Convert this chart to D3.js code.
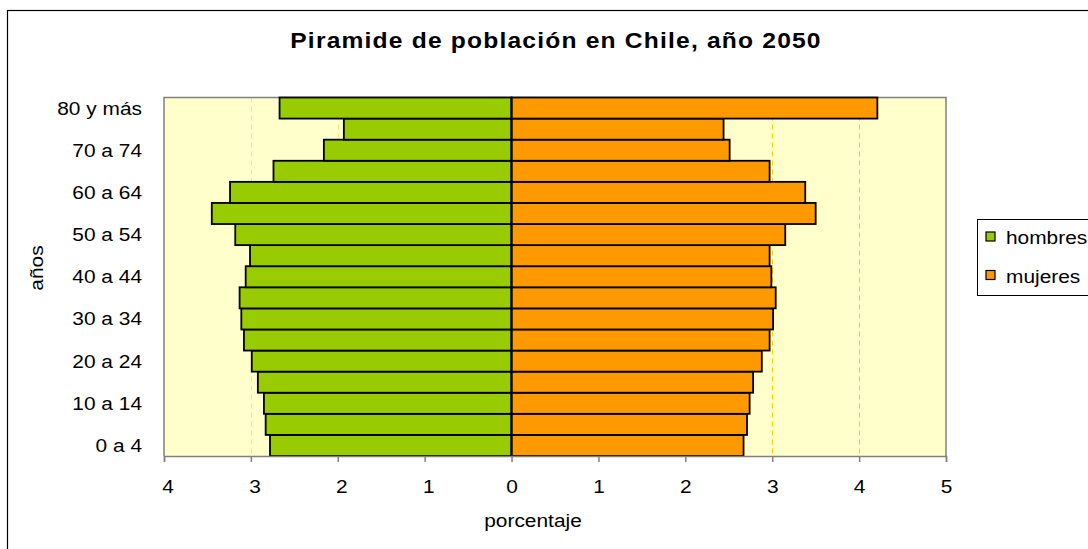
<!DOCTYPE html>
<html>
<head>
<meta charset="utf-8">
<script src="https://cdn.jsdelivr.net/npm/d3@7"></script>
<style>
  html, body { margin: 0; padding: 0; background: #ffffff; }
  svg { display: block; font-family: "Liberation Sans", Arial, sans-serif; }
</style>
</head>
<body>
<svg id="chart" width="1088" height="549"></svg>
<script>
// ---- data ----
const categories = ["0 a 4","5 a 9","10 a 14","15 a 19","20 a 24","25 a 29","30 a 34","35 a 39",
  "40 a 44","45 a 49","50 a 54","55 a 59","60 a 64","65 a 69","70 a 74","75 a 79","80 y más"];
const hombres = [2.78,2.83,2.85,2.92,2.99,3.08,3.11,3.13,3.06,3.01,3.18,3.45,3.24,2.74,2.16,1.93,2.67];
const mujeres = [2.67,2.71,2.74,2.78,2.88,2.97,3.01,3.04,2.99,2.97,3.15,3.50,3.38,2.97,2.51,2.44,4.21];
const xTicks = [-4,-3,-2,-1,0,1,2,3,4,5];
const yTickLabels = ["0 a 4","10 a 14","20 a 24","30 a 34","40 a 44","50 a 54","60 a 64","70 a 74","80 y más"];
const seriesNames = ["hombres","mujeres"];
const title = "Piramide de población en Chile, año 2050";

// ---- layout ----
const svg = d3.select("#chart");
const L = 164, R = 946, T = 97.5, B = 456;
const SX = 1.13; // horizontal text stretch
const FS = 18.5;
const x = d3.scaleLinear().domain([-4, 5]).range([L, R]);
const y = d3.scaleBand().domain(categories).range([B, T]).padding(0);
const colors = { hombres: "#99CC00", mujeres: "#FF9900" };

function txt(g, tx, ty, s, anchor, size, extra) {
  const t = g.append("text")
    .attr("transform", `translate(${tx},${ty})${extra || ""} scale(${SX},1)`)
    .attr("text-anchor", anchor).attr("font-size", size).attr("fill", "#000").text(s);
  return t;
}

// outer border
svg.append("rect").attr("x", 7.5).attr("y", 10.5).attr("width", 1100).attr("height", 560)
  .attr("fill", "#ffffff").attr("stroke", "#000000").attr("stroke-width", 1.2);

// plot background
svg.append("rect").attr("x", L).attr("y", T).attr("width", R - L).attr("height", B - T)
  .attr("fill", "#FFFFCC");

// gridlines
svg.append("g").selectAll("line")
  .data(xTicks.filter(d => d !== 0 && d !== -4 && d !== 5))
  .join("line")
  .attr("x1", d => Math.round(x(d)) + 0.5).attr("x2", d => Math.round(x(d)) + 0.5)
  .attr("y1", T).attr("y2", B)
  .attr("stroke", d => d < 0 ? "#FFE27A" : "#FFCC00").attr("stroke-width", 1).attr("stroke-dasharray", "5,4");

// plot border (left, top, right)
svg.append("path")
  .attr("d", `M${L},${B} V${T} H${R} V${B}`)
  .attr("fill", "none").attr("stroke", "#808080").attr("stroke-width", 1.5);

// bars
const bars = svg.append("g");
bars.selectAll("rect.h").data(categories).join("rect").attr("class", "h")
  .attr("x", (d, i) => x(-hombres[i])).attr("width", (d, i) => x(0) - x(-hombres[i]))
  .attr("y", d => y(d)).attr("height", y.bandwidth())
  .attr("fill", colors.hombres).attr("stroke", "#000").attr("stroke-width", 1.8);
bars.selectAll("rect.m").data(categories).join("rect").attr("class", "m")
  .attr("x", x(0)).attr("width", (d, i) => x(mujeres[i]) - x(0))
  .attr("y", d => y(d)).attr("height", y.bandwidth())
  .attr("fill", colors.mujeres).attr("stroke", "#000").attr("stroke-width", 1.8);

// zero line
svg.append("line").attr("x1", x(0)).attr("x2", x(0)).attr("y1", T).attr("y2", B)
  .attr("stroke", "#000").attr("stroke-width", 1.8);

// x axis
const xAxis = svg.append("g").attr("transform", `translate(0,${B})`)
  .call(d3.axisBottom(x).tickValues(xTicks).tickFormat(d => Math.abs(d)).tickSize(6).tickPadding(17.5));
xAxis.select(".domain").attr("stroke", "#808080").attr("stroke-width", 1.5);
xAxis.selectAll(".tick line").attr("stroke", "#808080").attr("stroke-width", 1.5);
xAxis.selectAll(".tick text")
  .attr("font-size", FS).attr("fill", "#000")
  .attr("font-family", "Liberation Sans, Arial, sans-serif")
  .attr("dx", d => d < 0 ? 3.2 : 0)
  .attr("transform", `scale(${SX},1)`);

// y labels
const yl = svg.append("g");
yTickLabels.forEach(d => txt(yl, 142, y(d) + y.bandwidth() / 2 + 6.5, d, "end", FS));

// title
svg.append("text")
  .attr("transform", `translate(556,48) scale(1.12,1)`)
  .attr("text-anchor", "middle")
  .attr("font-size", 22).attr("font-weight", "bold").attr("letter-spacing", 1.05)
  .text(title);

// axis titles
txt(svg, 533, 527, "porcentaje", "middle", FS);
txt(svg, 43, 268, "años", "middle", FS, " rotate(-90)");

// legend
const lg = svg.append("g");
lg.append("rect").attr("x", 977.5).attr("y", 219.5).attr("width", 140).attr("height", 76)
  .attr("fill", "#fff").attr("stroke", "#000").attr("stroke-width", 1);
seriesNames.forEach((s, i) => {
  const yy = 232 + i * 38.5;
  lg.append("rect").attr("x", 986).attr("y", yy).attr("width", 9).attr("height", 9)
    .attr("fill", colors[s]).attr("stroke", "#000").attr("stroke-width", 1.2);
  txt(lg, 1006, yy + 12, s, "start", FS);
});
</script>
</body>
</html>
